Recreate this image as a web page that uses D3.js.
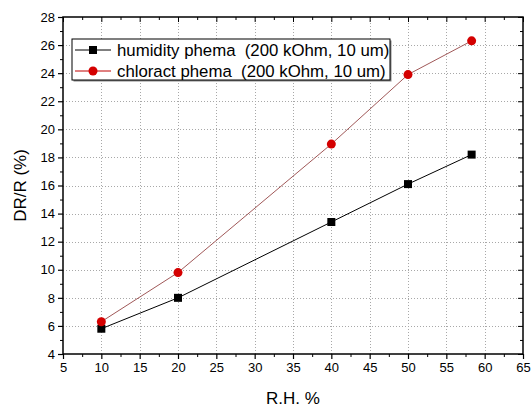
<!DOCTYPE html>
<html>
<head>
<meta charset="utf-8">
<script src="https://cdn.jsdelivr.net/npm/d3@7"></script>
<style>
  body { margin: 0; background: #fff; }
  text { font-family: "Liberation Sans", Arial, sans-serif; fill: #000; white-space: pre; }
</style>
</head>
<body>
<script>
const w = 532;
const h = 409;
const margin = { top: 17, right: 9, bottom: 55, left: 63 };

// data
const rh = [10, 20, 40, 50, 58.3];
const humidity = [5.8, 8.0, 13.4, 16.1, 18.2];
const chloract = [6.3, 9.8, 18.95, 23.9, 26.3];
const seriesNames = [
  "humidity phema  (200 kOhm, 10 um)",
  "chloract phema  (200 kOhm, 10 um)",
];
const xTicks = [5, 10, 15, 20, 25, 30, 35, 40, 45, 50, 55, 60, 65];
const yTicks = [4, 6, 8, 10, 12, 14, 16, 18, 20, 22, 24, 26, 28];

const svg = d3.select("body").append("svg").attr("width", w).attr("height", h);

const xScale = d3.scaleLinear().domain([5, 65]).range([margin.left, w - margin.right]);
const yScale = d3.scaleLinear().domain([4, 28]).range([h - margin.bottom, margin.top]);

const x0 = xScale.range()[0], x1 = xScale.range()[1];
const y0 = yScale.range()[0], y1 = yScale.range()[1];

// grid
const grid = svg.append("g").attr("stroke", "#a8a8a8").attr("stroke-dasharray", "1,2").attr("stroke-width", 1);
grid.selectAll(".vg").data(xTicks.slice(1, -1)).enter().append("line")
  .attr("x1", (d) => Math.round(xScale(d)) + 0.5).attr("x2", (d) => Math.round(xScale(d)) + 0.5)
  .attr("y1", y1).attr("y2", y0);
grid.selectAll(".hg").data(yTicks.slice(1, -1)).enter().append("line")
  .attr("y1", (d) => Math.round(yScale(d)) + 0.5).attr("y2", (d) => Math.round(yScale(d)) + 0.5)
  .attr("x1", x0).attr("x2", x1);

// minor tick values
const xMinor = d3.range(7.5, 65, 5);
const yMinor = d3.range(5, 28, 2);

// axes
const xAxis = d3.axisBottom(xScale).tickValues(xTicks).tickSize(5).tickPadding(4).tickFormat(d3.format("d"));
const yAxis = d3.axisLeft(yScale).tickValues(yTicks).tickSize(5).tickPadding(3).tickFormat(d3.format("d"));

const gx = svg.append("g").attr("transform", `translate(0, ${y0})`).call(xAxis);
const gy = svg.append("g").attr("transform", `translate(${x0}, 0)`).call(yAxis);
[gx, gy].forEach((g) => {
  g.select(".domain").remove();
  g.selectAll("line").attr("stroke", "#000").attr("stroke-width", 1.2);
  g.selectAll("text").style("font-size", "13px").attr("fill", "#000");
});

svg.append("g").attr("transform", `translate(0, ${y0})`)
  .call(d3.axisBottom(xScale).tickValues(xMinor).tickSize(3).tickFormat(""))
  .call((g) => g.select(".domain").remove());
svg.append("g").attr("transform", `translate(${x0}, 0)`)
  .call(d3.axisLeft(yScale).tickValues(yMinor).tickSize(3).tickFormat(""))
  .call((g) => g.select(".domain").remove());

// top and right ticks point inward
svg.append("g").attr("transform", `translate(0, ${y1})`)
  .call(d3.axisBottom(xScale).tickValues(xTicks).tickSize(5).tickFormat(""))
  .call((g) => g.select(".domain").remove());
svg.append("g").attr("transform", `translate(0, ${y1})`)
  .call(d3.axisBottom(xScale).tickValues(xMinor).tickSize(3).tickFormat(""))
  .call((g) => g.select(".domain").remove());
svg.append("g").attr("transform", `translate(${x1}, 0)`)
  .call(d3.axisLeft(yScale).tickValues(yTicks).tickSize(5).tickFormat(""))
  .call((g) => g.select(".domain").remove());
svg.append("g").attr("transform", `translate(${x1}, 0)`)
  .call(d3.axisLeft(yScale).tickValues(yMinor).tickSize(3).tickFormat(""))
  .call((g) => g.select(".domain").remove());

// frame
svg.append("rect").attr("x", x0).attr("y", y1).attr("width", x1 - x0).attr("height", y0 - y1)
  .attr("fill", "none").attr("stroke", "#000").attr("stroke-width", 1.5);

// axis titles
svg.append("text").text("R.H. %").attr("x", (x0 + x1) / 2).attr("y", 404)
  .attr("text-anchor", "middle").style("font-size", "17px");
svg.append("text").text("DR/R (%)").attr("transform", `translate(26, ${(y0 + y1) / 2}) rotate(-90)`)
  .attr("text-anchor", "middle").style("font-size", "17px");

// series
const line = d3.line().x((d) => xScale(d[0])).y((d) => yScale(d[1]));
const humData = rh.map((x, i) => [x, humidity[i]]);
const chlData = rh.map((x, i) => [x, chloract[i]]);

svg.append("path").datum(humData).attr("d", line).attr("fill", "none").attr("stroke", "#000").attr("stroke-width", 1);
svg.append("path").datum(chlData).attr("d", line).attr("fill", "none").attr("stroke", "#a05858").attr("stroke-width", 1);

svg.selectAll(".sq").data(humData).enter().append("rect")
  .attr("x", (d) => xScale(d[0]) - 4).attr("y", (d) => yScale(d[1]) - 4)
  .attr("width", 8).attr("height", 8).attr("fill", "#000");
svg.selectAll(".dot").data(chlData).enter().append("circle")
  .attr("cx", (d) => xScale(d[0])).attr("cy", (d) => yScale(d[1]))
  .attr("r", 4.5).attr("fill", "#d40000");

// legend
const lg = svg.append("g").attr("transform", "translate(72, 39)");
lg.append("rect").attr("x", 1.5).attr("y", 1.5).attr("width", 318).attr("height", 41).attr("fill", "#888");
lg.append("rect").attr("width", 318).attr("height", 41).attr("fill", "#fff").attr("stroke", "#000").attr("stroke-width", 1);
const rows = [
  { name: seriesNames[0], color: "#000", stroke: "#000", shape: "square" },
  { name: seriesNames[1], color: "#d40000", stroke: "#c00000", shape: "circle" },
];
rows.forEach((r, i) => {
  const yy = 11 + i * 21;
  lg.append("line").attr("x1", 3).attr("x2", 39).attr("y1", yy).attr("y2", yy).attr("stroke", r.stroke);
  if (r.shape === "square") {
    lg.append("rect").attr("x", 21 - 4).attr("y", yy - 4).attr("width", 8).attr("height", 8).attr("fill", r.color);
  } else {
    lg.append("circle").attr("cx", 21).attr("cy", yy).attr("r", 4.5).attr("fill", r.color);
  }
  lg.append("text").text(r.name).attr("x", 45).attr("y", yy + 6).style("font-size", "16.8px");
});
</script>
</body>
</html>
